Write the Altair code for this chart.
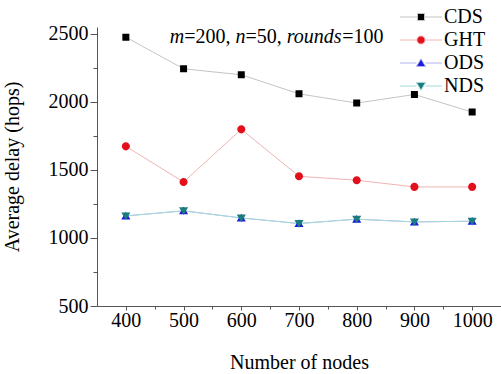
import altair as alt
import pandas as pd

nodes = [400, 500, 600, 700, 800, 900, 1000]
cds = [2475, 2243, 2199, 2059, 1991, 2054, 1925]
ght = [1673, 1411, 1798, 1453, 1424, 1375, 1375]
ods = [1162, 1199, 1147, 1106, 1138, 1118, 1123]
nds = [1162, 1199, 1147, 1106, 1138, 1118, 1123]
series_names = ["CDS", "GHT", "ODS", "NDS"]

x_ticks = [400, 500, 600, 700, 800, 900, 1000]
x_minor = [450, 550, 650, 750, 850, 950]
y_ticks = [500, 1000, 1500, 2000, 2500]
y_minor = [750, 1250, 1750, 2250]

line_colors = ["#c4c4c4", "#f0b4b4", "#b4b4ee", "#a6dada"]
marker_colors = ["#000000", "#e3101c", "#1a1ae0", "#1b7c80"]
# marker glyph with a horizontal line through it (line part only shows where stroked)
legend_paths = [
    "M-3,0L-0.5,0M0.5,0L3,0M-0.5,-0.5L0.5,-0.5L0.5,0.5L-0.5,0.5Z",
    "M-3,0L-0.58,0M0.58,0L3,0M-0.58,0A0.58,0.58 0 1,0 0.58,0A0.58,0.58 0 1,0 -0.58,0Z",
    "M-3,0L-0.65,0M0.65,0L3,0M0,-0.6L0.65,0.5L-0.65,0.5Z",
    "M-3,0L-0.65,0M0.65,0L3,0M0,0.6L0.65,-0.5L-0.65,-0.5Z",
]

rows = []
for name, vals in zip(series_names, [cds, ght, ods, nds]):
    for n, v in zip(nodes, vals):
        rows.append({"nodes": n, "delay": v, "series": name})
df = pd.DataFrame(rows)

FONT = "Liberation Serif"
xscale = alt.Scale(domain=[350, 1050], nice=False, zero=False)
yscale = alt.Scale(domain=[500, 2550], nice=False, zero=False)
stroke_scale = alt.Scale(domain=series_names, range=line_colors)
fill_scale = alt.Scale(domain=series_names, range=marker_colors)
shape_scale = alt.Scale(domain=series_names, range=legend_paths)


def js_list(items):
    return "[" + ",".join("'" + s + "'" for s in items) + "]"


names_js = js_list(series_names)
fill_expr = js_list(marker_colors) + "[indexof(" + names_js + ", datum.value)]"
stroke_expr = js_list(line_colors) + "[indexof(" + names_js + ", datum.value)]"

leg = alt.Legend(
    title=None, orient="none", legendX=314, legendY=-20, symbolSize=196,
    symbolStrokeWidth=1, symbolOpacity=1, labelOffset=13, rowPadding=3, padding=0,
    labelFont=FONT, labelFontSize=20, labelColor="black", labelLimit=200,
    symbolFillColor=alt.ExprRef(expr=fill_expr),
    symbolStrokeColor=alt.ExprRef(expr=stroke_expr),
)

base = alt.Chart(df)

legend_layer = base.mark_point(filled=True, size=0, opacity=1, strokeWidth=1).encode(
    x=alt.X("nodes:Q", scale=xscale, axis=None),
    y=alt.Y("delay:Q", scale=yscale, axis=None),
    shape=alt.Shape("series:N", scale=shape_scale, legend=leg),
    fill=alt.Fill("series:N", scale=fill_scale, legend=None),
    stroke=alt.Stroke("series:N", scale=stroke_scale, legend=None),
)

lines = base.mark_line(strokeWidth=1).encode(
    x=alt.X("nodes:Q", scale=xscale,
            axis=alt.Axis(values=x_ticks, orient="bottom", tickSize=4, labelPadding=0,
                          title="Number of nodes", titlePadding=22, format="d")),
    y=alt.Y("delay:Q", scale=yscale,
            axis=alt.Axis(values=y_ticks, orient="left", tickSize=7, labelPadding=2,
                          title="Average delay (hops)", titlePadding=26, format="d")),
    stroke=alt.Stroke("series:N", scale=stroke_scale, legend=None),
    order=alt.Order("nodes:Q"),
)

points = base.mark_point(filled=True, opacity=1, size=196, strokeWidth=0).encode(
    x=alt.X("nodes:Q", scale=xscale,
            axis=alt.Axis(values=x_minor, orient="bottom", tickSize=3, labels=False,
                          domain=False, title=None)),
    y=alt.Y("delay:Q", scale=yscale,
            axis=alt.Axis(values=y_minor, orient="left", tickSize=4, labels=False,
                          domain=False, title=None)),
    fill=alt.Fill("series:N", scale=fill_scale, legend=None),
    shape=alt.Shape("series:N", scale=shape_scale, legend=leg),
)

ann_x = 476
ann_y = 2430
segments = [("m", "italic", 0), ("=200, ", "normal", 14.44), ("n", "italic", 65.72),
            ("=50, ", "normal", 75.72), ("rounds", "italic", 117.0), ("=100", "normal", 172.56)]
ann_layers = []
for txt, style, off in segments:
    ann_layers.append(
        alt.Chart(pd.DataFrame({"a": [0]})).mark_text(
            text=txt, font=FONT, fontSize=20, fontStyle=style, align="left",
            baseline="alphabetic", dx=off, color="black"
        ).encode(
            x=alt.XDatum(ann_x, scale=xscale, axis=None),
            y=alt.YDatum(ann_y, scale=yscale, axis=None),
        )
    )

chart = alt.layer(legend_layer, lines, points, *ann_layers).resolve_axis(
    x="independent", y="independent"
).properties(
    width=404, height=279, background="white",
    autosize=alt.AutoSizeParams(type="none"),
    padding={"left": 97, "top": 27, "right": 0, "bottom": 68},
).configure(font=FONT).configure_view(stroke=None).configure_axis(
    grid=False, labelFont=FONT, labelFontSize=20, labelColor="black",
    titleFont=FONT, titleFontSize=20, titleFontWeight="normal", titleColor="black",
    domainColor="#555555", tickColor="#555555", domainWidth=1, tickWidth=1,
).configure_legend(
    labelFont=FONT, labelFontSize=20, labelColor="black", symbolSize=196,
    symbolStrokeWidth=1, symbolOpacity=1,
)

chart.save("out.html", embed_options={"renderer": "svg", "actions": False})
